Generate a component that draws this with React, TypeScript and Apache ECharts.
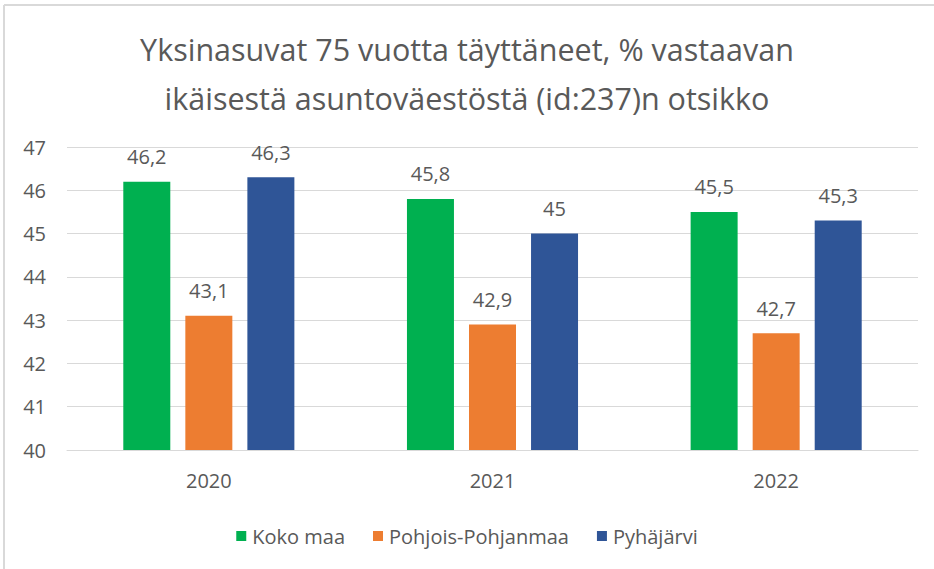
import React, { useEffect, useRef } from "react";
import * as echarts from "echarts";

const categories = ["2020", "2021", "2022"];
const kokoMaa = [46.2, 45.8, 45.5];
const pohjoisPohjanmaa = [43.1, 42.9, 42.7];
const pyhajarvi = [46.3, 45.0, 45.3];
const seriesNames = ["Koko maa", "Pohjois-Pohjanmaa", "Pyhäjärvi"];
const colors = ["#00B050", "#ED7D31", "#2F5597"];
const titleText = "Yksinasuvat 75 vuotta täyttäneet, % vastaavan\nikäisestä asuntoväestöstä (id:237)n otsikko";

const FONT = "'Open Sans', sans-serif";
const TXT = "#595959";

export default function App() {
  const ref = useRef<HTMLDivElement>(null);
  useEffect(() => {
    if (!ref.current) return;
    const chart = echarts.init(ref.current, null, { renderer: "svg" });
    const fmt = (p: any) => String(p.value).replace(".", ",");
    const data = [kokoMaa, pohjoisPohjanmaa, pyhajarvi];
    chart.setOption({
      animation: false,
      backgroundColor: "#fff",
      textStyle: { fontFamily: FONT },
      title: {
        text: titleText,
        left: "center",
        top: 24,
        padding: 0,
        textStyle: { fontFamily: FONT, fontSize: 30.5, fontWeight: "normal", color: TXT, lineHeight: 49 },
      },
      legend: {
        top: 521,
        left: "center",
        itemWidth: 10,
        itemHeight: 10,
        itemGap: 28,
        icon: "rect",
        textStyle: { fontFamily: FONT, fontSize: 20, color: TXT, padding: [0, 0, 0, 1] },
        data: seriesNames,
      },
      grid: { left: 67, right: 16, top: 147, bottom: 119, containLabel: false },
      xAxis: {
        type: "category",
        data: categories,
        axisTick: { show: false },
        axisLine: { lineStyle: { color: "#D9D9D9", width: 1 } },
        axisLabel: { fontFamily: FONT, fontSize: 20, color: TXT, margin: 20 },
      },
      yAxis: {
        type: "value",
        min: 40,
        max: 47,
        interval: 1,
        axisLabel: { fontFamily: FONT, fontSize: 20, color: TXT, margin: 21 },
        splitLine: { lineStyle: { color: "#D9D9D9", width: 1 } },
        axisLine: { show: false },
        axisTick: { show: false },
      },
      graphic: [
        { type: "line", shape: { x1: 4, y1: 5, x2: 934, y2: 5 }, style: { stroke: "#D9D9D9", lineWidth: 2 } },
        { type: "line", shape: { x1: 4, y1: 5, x2: 4, y2: 569 }, style: { stroke: "#D9D9D9", lineWidth: 2 } },
      ],
      series: seriesNames.map((name, i) => ({
        name,
        type: "bar",
        data: data[i],
        barWidth: 47,
        barGap: "32%",
        itemStyle: { color: colors[i] },
        label: {
          show: true,
          position: "top",
          distance: 15,
          formatter: fmt,
          fontFamily: FONT,
          fontSize: 20,
          color: TXT,
        },
      })),
    });
    return () => chart.dispose();
  }, []);
  return (
    <div
      ref={ref}
      style={{ position: "fixed", left: 0, top: 0, width: 934, height: 569 }}
    />
  );
}
